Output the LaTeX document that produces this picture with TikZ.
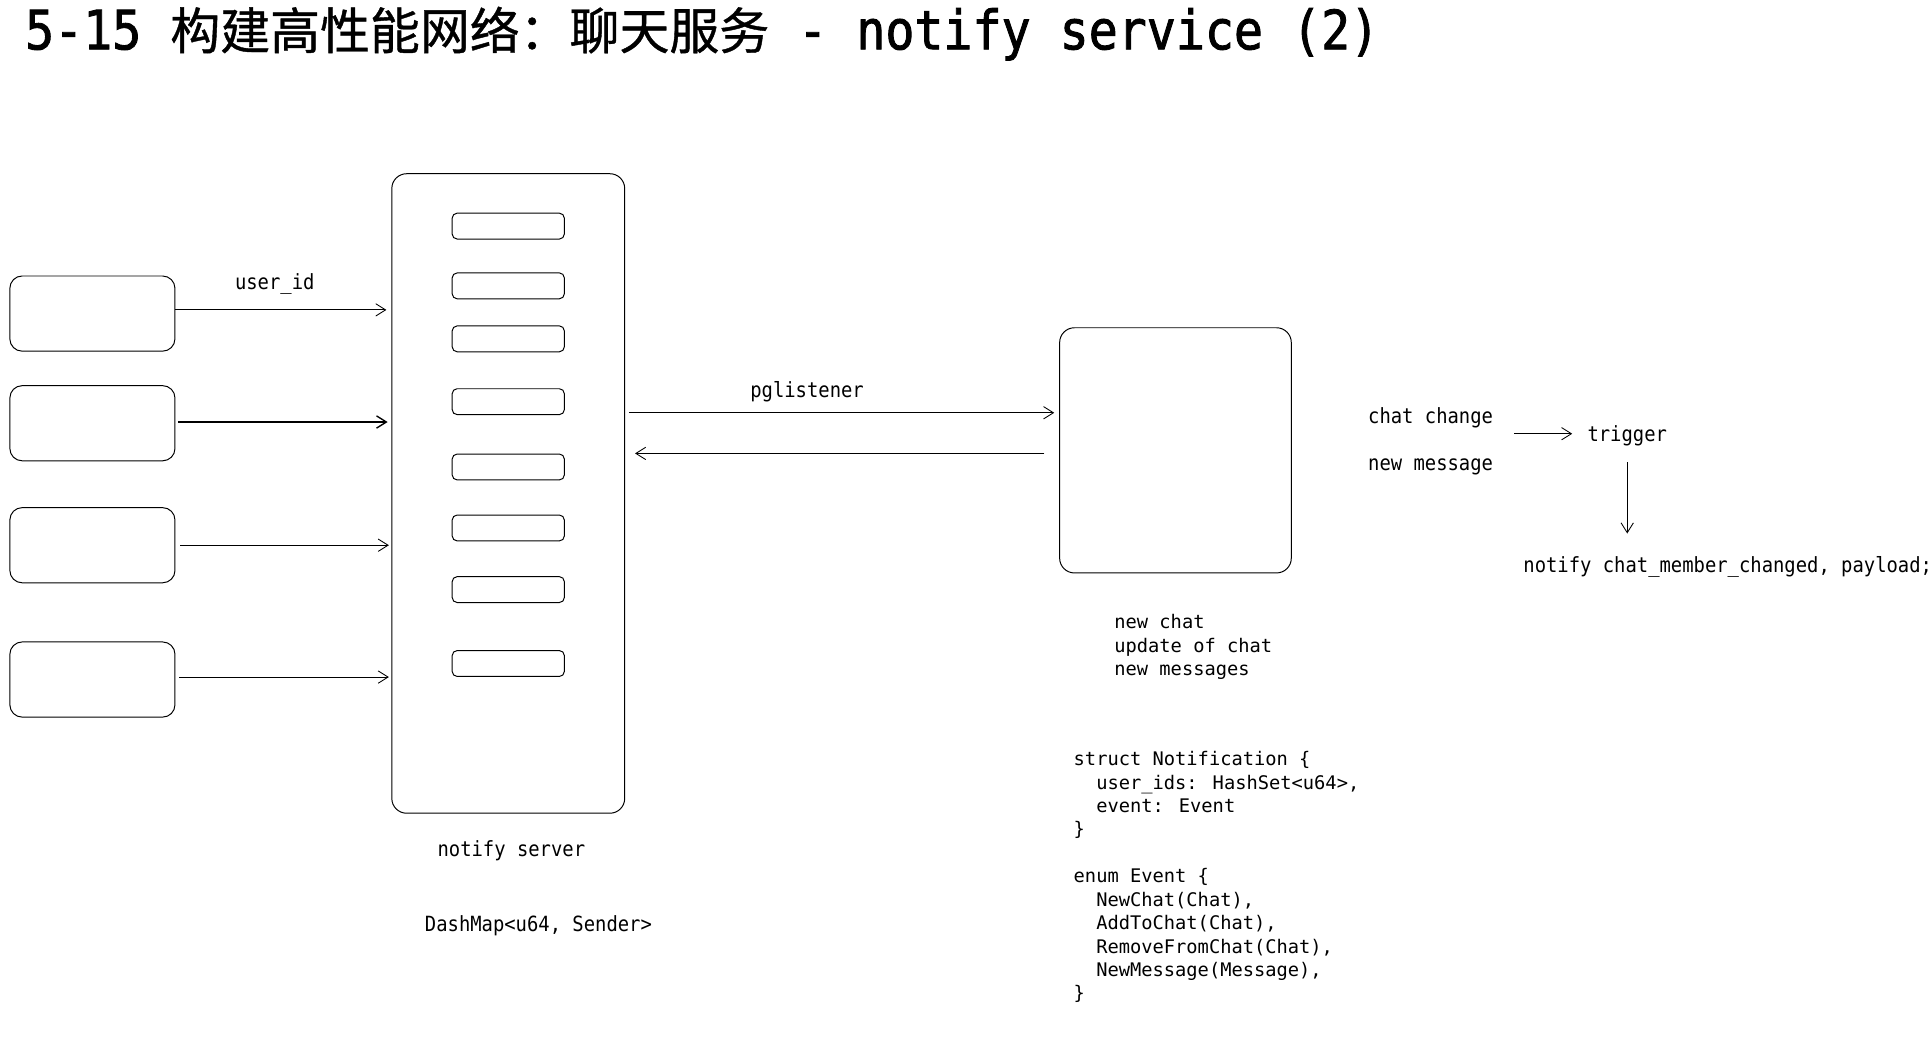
\documentclass[tikz,border=0pt]{standalone}
\usepackage{fontspec}
\usetikzlibrary{arrows.meta,calc}
\newfontfamily\titlefont[FakeStretch=0.89,FakeBold=1.6]{DejaVu Sans Mono}
\newfontfamily\cjk[FakeBold=0.8]{Noto Sans CJK SC}
\newfontfamily\labfont[FakeStretch=0.9]{DejaVu Sans Mono}
\newfontfamily\codefont{DejaVu Sans Mono}
\begin{document}
\begin{tikzpicture}[x=1pt,y=-1pt,
  line width=0.8pt,
  client/.style={draw, rounded corners=10pt, minimum width=134pt, minimum height=61pt, inner sep=0pt},
  slot/.style={draw, rounded corners=4pt, minimum width=91pt, minimum height=21pt, inner sep=0pt},
  bigbox/.style={draw, rounded corners=12pt, inner sep=0pt},
  lab/.style={font={\labfont\fontsize{17}{19}\selectfont}, inner sep=0pt},
  code/.style={font={\codefont\fontsize{15.2}{19}\selectfont}, align=left, inner sep=0pt},
  arr/.style={-{Straight Barb[length=8pt,width=10pt]}, line width=0.7pt}]
\useasboundingbox[fill=white] (0,0) rectangle (1568,845);

% title
\node[anchor=base west, inner sep=0pt] (title) at (20,40)
  {\titlefont\fontsize{44}{48}\selectfont 5-15 {\cjk\fontsize{40.5}{48}\selectfont 构建高性能网络：聊天服务} - notify service (2)};

% clients
\node[client] (b1) at (75,254.5) {};
\node[client] (b2) at (75,343.5) {};
\node[client] (b3) at (75,442.5) {};
\node[client] (b4) at (75,551.5) {};

% notify server
\node[bigbox, minimum width=189pt, minimum height=519pt] (srv) at (412.5,400.5) {};
\node[slot] (s1) at (412.5,183.5) {};
\node[slot] (s2) at (412.5,232) {};
\node[slot] (s3) at (412.5,275) {};
\node[slot] (s4) at (412.5,326) {};
\node[slot] (s5) at (412.5,379) {};
\node[slot] (s6) at (412.5,428.5) {};
\node[slot] (s7) at (412.5,478.5) {};
\node[slot] (s8) at (412.5,538.5) {};

\node[lab, anchor=base] (uid) at (223,235) {user\_id};
\node[lab, anchor=base] (nsl) at (415,695) {notify server};
\node[lab, anchor=base] (dm) at (437,756) {DashMap<u64, Sender>};

\draw[arr] ($(b1.east)+(0,-3)$) -- ($(b1.east -| srv.west)+(-4,-3)$);
\draw[arr, line width=1.1pt] ($(b2.east)+(2,-1)$) -- ($(b2.east -| srv.west)+(-3,-1)$);
\draw[arr] ($(b3.east)+(4,0)$) -- ($(b3.east -| srv.west)+(-2,0)$);
\draw[arr] ($(b4.east)+(3,-2)$) -- ($(b4.east -| srv.west)+(-2,-2)$);

% database box
\node[bigbox, minimum width=188pt, minimum height=199pt] (cb) at (954,365.5) {};
\node[lab, anchor=base] (pgl) at (655,323) {pglistener};
\draw[arr] ($(srv.east |- cb.west)+(3,-30.5)$) -- ($(cb.west)+(-4,-30.5)$);
\draw[arr] ($(cb.west)+(-12,2.5)$) -- ($(srv.east |- cb.west)+(8,2.5)$);

\node[code, anchor=north west] (ev) at (904,498.5) {new chat\\update of chat\\new messages};

\node[code, anchor=north west] (st) at (871,609.5) {struct Notification \{\\
\phantom{xx}user\_ids: HashSet<u64>,\\
\phantom{xx}event: Event\\
\}\\[19pt]
enum Event \{\\
\phantom{xx}NewChat(Chat),\\
\phantom{xx}AddToChat(Chat),\\
\phantom{xx}RemoveFromChat(Chat),\\
\phantom{xx}NewMessage(Message),\\
\}};

% trigger
\node[lab, anchor=base west] (chg) at (1110,344) {chat change};
\node[lab, anchor=base west] (nm) at (1110,382) {new message};
\node[lab, anchor=base west] (trig) at (1288,358) {trigger};
\node[lab, anchor=base west] (ntf) at (1236,465) {notify chat\_member\_changed, payload;};
\draw[arr] ($(trig.base west)+(-59,-6)$) -- ($(trig.base west)+(-12,-6)$);
\draw[arr] ($(trig.base)+(0,17)$) -- ($(trig.base)+(0,75)$);
\end{tikzpicture}
\end{document}
